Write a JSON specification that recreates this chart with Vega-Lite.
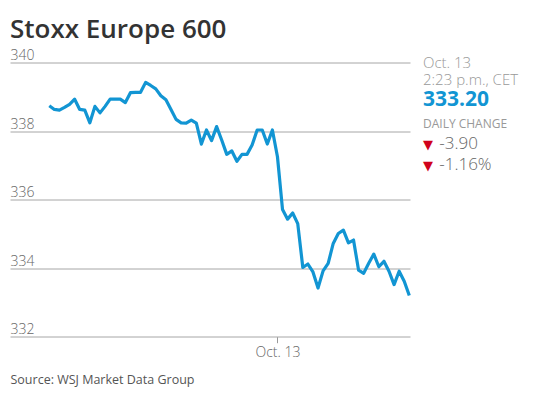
{
  "$schema": "https://vega.github.io/schema/vega-lite/v6.json",
  "width": 400,
  "height": 274.2,
  "autosize": {"type": "none"},
  "padding": {"left": 10, "top": 62.5, "right": 128, "bottom": 60.3},
  "background": "white",
  "title": {
    "text": "Stoxx Europe 600",
    "anchor": "start",
    "frame": "group",
    "font": "Open Sans",
    "fontSize": 26,
    "fontWeight": 600,
    "color": "#333333",
    "baseline": "alphabetic",
    "offset": -15
  },
  "config": {"view": {"stroke": null}},
  "datasets": {
    "series": [
      {"i": 0, "v": 338.74}, {"i": 1, "v": 338.63}, {"i": 2, "v": 338.61}, {"i": 3, "v": 338.69},
      {"i": 4, "v": 338.78}, {"i": 5, "v": 338.93}, {"i": 6, "v": 338.63}, {"i": 7, "v": 338.61},
      {"i": 8, "v": 338.24}, {"i": 9, "v": 338.72}, {"i": 10, "v": 338.53}, {"i": 11, "v": 338.72},
      {"i": 12, "v": 338.93}, {"i": 13, "v": 338.93}, {"i": 14, "v": 338.93}, {"i": 15, "v": 338.83},
      {"i": 16, "v": 339.12}, {"i": 17, "v": 339.13}, {"i": 18, "v": 339.13}, {"i": 19, "v": 339.42},
      {"i": 20, "v": 339.33}, {"i": 21, "v": 339.23}, {"i": 22, "v": 339.03}, {"i": 23, "v": 338.91},
      {"i": 24, "v": 338.63}, {"i": 25, "v": 338.34}, {"i": 26, "v": 338.24}, {"i": 27, "v": 338.23},
      {"i": 28, "v": 338.32}, {"i": 29, "v": 338.23}, {"i": 30, "v": 337.62}, {"i": 31, "v": 338.03},
      {"i": 32, "v": 337.72}, {"i": 33, "v": 338.13}, {"i": 34, "v": 337.74}, {"i": 35, "v": 337.32},
      {"i": 36, "v": 337.42}, {"i": 37, "v": 337.12}, {"i": 38, "v": 337.32}, {"i": 39, "v": 337.32},
      {"i": 40, "v": 337.59}, {"i": 41, "v": 338.03}, {"i": 42, "v": 338.03}, {"i": 43, "v": 337.62},
      {"i": 44, "v": 338.03}, {"i": 45, "v": 337.25}, {"i": 46, "v": 335.71}, {"i": 47, "v": 335.43},
      {"i": 48, "v": 335.61}, {"i": 49, "v": 335.3}, {"i": 50, "v": 334.02}, {"i": 51, "v": 334.12},
      {"i": 52, "v": 333.89}, {"i": 53, "v": 333.42}, {"i": 54, "v": 333.92}, {"i": 55, "v": 334.14},
      {"i": 56, "v": 334.72}, {"i": 57, "v": 335.01}, {"i": 58, "v": 335.11}, {"i": 59, "v": 334.74},
      {"i": 60, "v": 334.82}, {"i": 61, "v": 333.94}, {"i": 62, "v": 333.85}, {"i": 63, "v": 334.14},
      {"i": 64, "v": 334.41}, {"i": 65, "v": 334.04}, {"i": 66, "v": 334.2}, {"i": 67, "v": 333.91},
      {"i": 68, "v": 333.52}, {"i": 69, "v": 333.91}, {"i": 70, "v": 333.62}, {"i": 71, "v": 333.2}
    ],
    "one": [{}]
  },
  "layer": [
    {
      "data": {"name": "series"},
      "mark": {"type": "line", "color": "#1295d3", "strokeWidth": 3.2, "strokeJoin": "round"},
      "encoding": {
        "x": {
          "field": "i",
          "type": "quantitative",
          "scale": {"domain": [-7.75, 71.14], "nice": false, "zero": false},
          "axis": {
            "values": [45],
            "labelExpr": "'Oct. 13'",
            "domain": false,
            "grid": false,
            "ticks": true,
            "tickSize": 6,
            "tickColor": "#999999",
            "labelFont": "Open Sans",
            "labelFontWeight": 300,
            "labelFontSize": 14,
            "labelColor": "#666666",
            "labelPadding": 3,
            "labelFlush": false,
            "title": "Source: WSJ Market Data Group",
            "titleAnchor": "start",
            "titleAlign": "left",
            "titleFont": "Open Sans",
            "titleFontWeight": 400,
            "titleFontSize": 12.5,
            "titleColor": "#555555",
            "titlePadding": 14
          }
        },
        "y": {
          "field": "v",
          "type": "quantitative",
          "scale": {"domain": [332, 340], "nice": false, "zero": false},
          "axis": {
            "values": [332, 334, 336, 338, 340],
            "title": null,
            "domain": false,
            "ticks": false,
            "tickSize": 0,
            "grid": true,
            "gridColor": "#a6a6a6",
            "gridWidth": 1,
            "labelAlign": "left",
            "labelBaseline": "alphabetic",
            "labelPadding": 0,
            "labelOffset": -3,
            "labelFont": "Open Sans",
            "labelFontWeight": 300,
            "labelFontSize": 14,
            "labelColor": "#666666"
          }
        }
      }
    },
    {
      "data": {"name": "one"},
      "mark": {"type": "text", "align": "left", "baseline": "alphabetic", "font": "Open Sans", "fontWeight": 300, "fontSize": 15, "color": "#999999", "lineBreak": "\n", "lineHeight": 16.5},
      "encoding": {
        "x": {"datum": 73.7, "type": "quantitative"},
        "y": {"datum": 339.83, "type": "quantitative"},
        "text": {"value": "Oct. 13\n2:23 p.m., CET"}
      }
    },
    {
      "data": {"name": "one"},
      "mark": {"type": "text", "align": "left", "baseline": "alphabetic", "font": "Open Sans", "fontWeight": 700, "fontSize": 21, "color": "#1295d3"},
      "encoding": {
        "x": {"datum": 73.7, "type": "quantitative"},
        "y": {"datum": 338.73, "type": "quantitative"},
        "text": {"value": "333.20"}
      }
    },
    {
      "data": {"name": "one"},
      "mark": {"type": "text", "align": "left", "baseline": "alphabetic", "font": "Open Sans", "fontWeight": 400, "fontSize": 12, "color": "#999999"},
      "encoding": {
        "x": {"datum": 73.7, "type": "quantitative"},
        "y": {"datum": 338.1, "type": "quantitative"},
        "text": {"value": "DAILY CHANGE"}
      }
    },
    {
      "data": {"name": "one"},
      "mark": {"type": "text", "align": "left", "baseline": "alphabetic", "font": "DejaVu Sans", "fontSize": 13, "color": "#d0021b", "lineBreak": "\n", "lineHeight": 20.7},
      "encoding": {
        "x": {"datum": 73.7, "type": "quantitative"},
        "y": {"datum": 337.47, "type": "quantitative"},
        "text": {"value": "▼\n▼"}
      }
    },
    {
      "data": {"name": "one"},
      "mark": {"type": "text", "align": "left", "baseline": "alphabetic", "font": "Open Sans", "fontWeight": 300, "fontSize": 17, "color": "#666666", "lineBreak": "\n", "lineHeight": 20.7},
      "encoding": {
        "x": {"datum": 76.9, "type": "quantitative"},
        "y": {"datum": 337.47, "type": "quantitative"},
        "text": {"value": "-3.90\n-1.16%"}
      }
    }
  ]
}
